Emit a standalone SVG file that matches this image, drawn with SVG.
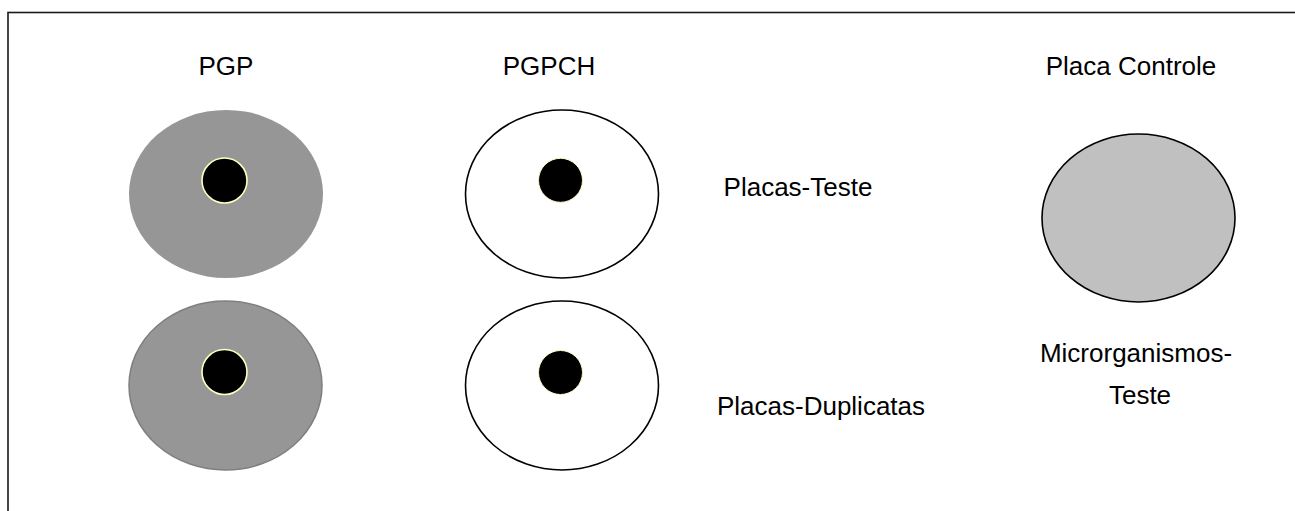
<svg xmlns="http://www.w3.org/2000/svg" width="1295" height="511" viewBox="0 0 1295 511">
  <style>
    .lbl { font-family: "Liberation Sans", Arial, sans-serif; font-size: 26px; fill: #000; text-anchor: middle; }
    .frame { fill: #fff; stroke: #1a1a1a; stroke-width: 1.6; }
    .pgp { fill: #969696; }
    .pgp-edge { stroke: #7f7f7f; stroke-width: 1.5; }
    .pgpch { fill: #fff; stroke: #000; stroke-width: 1.6; }
    .ctrl { fill: #c0c0c0; stroke: #000; stroke-width: 1.6; }
    .well { fill: #000; stroke: #ffffc0; stroke-width: 1.6; }
    .well-faint { fill: #000; stroke: #fff8c8; stroke-width: 1; }
  </style>

  <!-- page frame -->
  <rect class="frame" x="8" y="12.5" width="1300" height="520"/>

  <!-- column headings -->
  <g id="heading-pgp"><text class="lbl" x="226" y="75">PGP</text></g>
  <g id="heading-pgpch"><text class="lbl" x="549" y="75">PGPCH</text></g>
  <g id="heading-control"><text class="lbl" x="1131" y="75">Placa Controle</text></g>

  <!-- PGP plates -->
  <g id="pgp-test">
    <ellipse class="pgp" cx="226" cy="194" rx="97" ry="84"/>
    <circle class="well" cx="224.5" cy="180.5" r="22.5"/>
  </g>
  <g id="pgp-duplicate">
    <ellipse class="pgp pgp-edge" cx="225.5" cy="385.5" rx="96.5" ry="84.5"/>
    <circle class="well" cx="224.5" cy="372" r="22.5"/>
  </g>

  <!-- PGPCH plates -->
  <g id="pgpch-test">
    <ellipse class="pgpch" cx="562" cy="194" rx="96.5" ry="84"/>
    <circle class="well-faint" cx="560.5" cy="180.3" r="22"/>
  </g>
  <g id="pgpch-duplicate">
    <ellipse class="pgpch" cx="562" cy="385.5" rx="96.5" ry="84.5"/>
    <circle class="well-faint" cx="560.5" cy="372.5" r="22"/>
  </g>

  <!-- row labels -->
  <g id="label-test"><text class="lbl" x="798" y="196">Placas-Teste</text></g>
  <g id="label-duplicate"><text class="lbl" x="821" y="415">Placas-Duplicatas</text></g>

  <!-- control plate -->
  <g id="control-plate">
    <ellipse class="ctrl" cx="1138.5" cy="218" rx="96.5" ry="84"/>
  </g>
  <g id="label-organisms">
    <text class="lbl" x="1136" y="362">Microrganismos-</text>
    <text class="lbl" x="1140" y="404">Teste</text>
  </g>
</svg>
